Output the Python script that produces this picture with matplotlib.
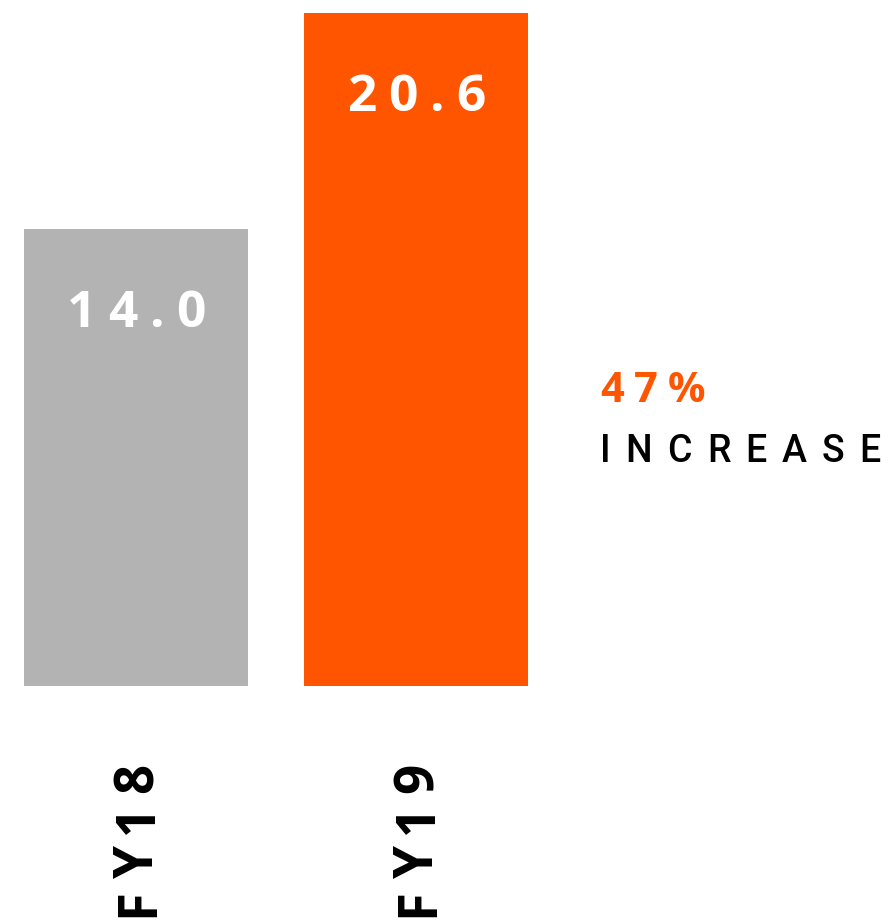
import matplotlib
matplotlib.use("Agg")
import matplotlib.pyplot as plt
import matplotlib.transforms as mtransforms

# data
years = ["FY18", "FY19"]
values = [14.0, 20.6]
bar_colors = ["#b3b3b3", "#ff5500"]
change_label = "47%"
change_word = "INCREASE"

FONT = ["Open Sans", "DejaVu Sans"]
ORANGE = "#ff5500"

fig = plt.figure(figsize=(8.92, 9.22), dpi=100)
ax = fig.add_axes([24 / 892, (922 - 686) / 922, 504 / 892, 673 / 922])

x = list(range(len(years)))
ax.bar(x, values, width=0.8, color=bar_colors)
ax.set_xlim(-0.4, 1.4)
ax.set_ylim(0, max(values))
ax.axis("off")

renderer = fig.canvas.get_renderer()
pix = mtransforms.IdentityTransform()


def tracked(px, py, s, tracking, center=False, rotation=0, **kw):
    """Draw s char by char (pixel coords) so we get letter spacing."""
    widths = []
    for c in s:
        t = fig.text(0, 0, c, **kw)
        widths.append(t.get_window_extent(renderer).width)
        t.remove()
    total = sum(widths) + tracking * (len(s) - 1)
    pos = (px if rotation == 0 else py) - (total / 2 if center else 0)
    for c, w in zip(s, widths):
        if rotation == 0:
            fig.text(pos, py, c, transform=pix, ha="left", va="baseline", **kw)
        else:
            fig.text(px, pos, c, transform=pix, rotation=90, rotation_mode="anchor",
                     ha="left", va="baseline", **kw)
        pos += w + tracking


# value labels inside the bars
for xi, v in zip(x, values):
    cx, top = ax.transData.transform((xi, v))
    tracked(cx, top - 98, f"{v:.1f}", 12, center=True,
            color="white", fontsize=37, fontweight="bold", family=FONT)

# rotated year labels below the bars
for xi, yr in zip(x, years):
    cx, _ = ax.transData.transform((xi, 0))
    tracked(cx + 17, 5, yr, 10.5, rotation=90,
            color="black", fontsize=38, fontweight="bold", family=FONT)

# annotation on the right
tracked(600, 922 - 402, change_label, 10,
        color=ORANGE, fontsize=30, fontweight="bold", family=FONT)
tracked(600, 922 - 462, change_word, 15,
        color="black", fontsize=27, fontweight="medium", family=["Roboto", "DejaVu Sans"])

fig.savefig("out.png", dpi=100)
